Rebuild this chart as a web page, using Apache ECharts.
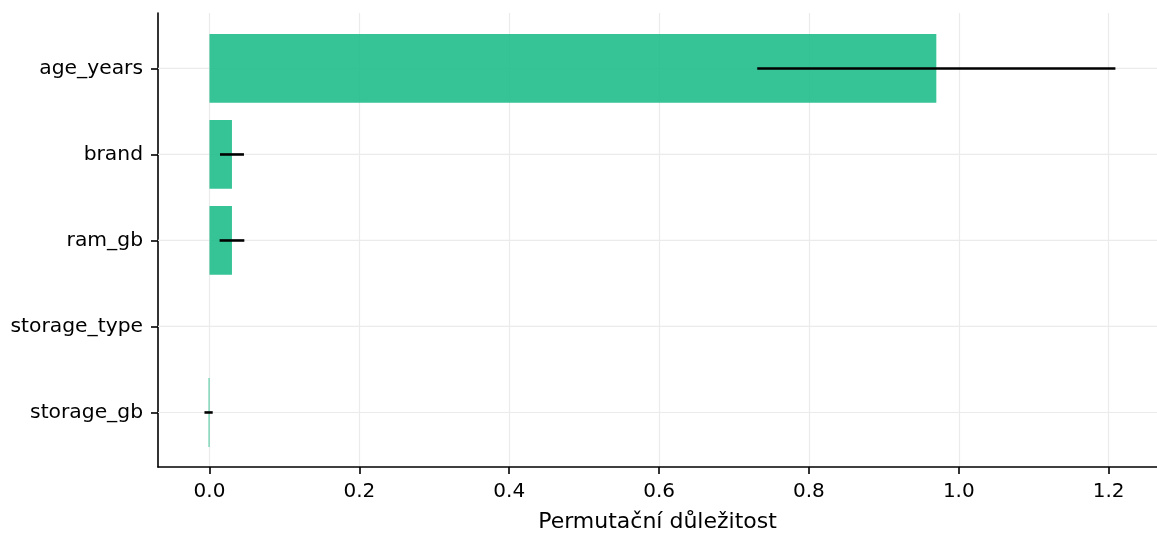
<!DOCTYPE html>
<html>
<head>
<meta charset="utf-8">
<script src="https://cdn.jsdelivr.net/npm/echarts@6/dist/echarts.min.js"></script>
<style>
  html, body { margin: 0; padding: 0; background: #ffffff; }
  #chart { width: 1157px; height: 533px; }
</style>
</head>
<body>
<div id="chart"></div>
<script>
// ---- data ----
const categories = ['age_years', 'brand', 'ram_gb', 'storage_type', 'storage_gb'];
const importanceMean = [0.970, 0.030, 0.030, 0.000, -0.0012];
const importanceStd = [0.239, 0.016, 0.0165, 0.000, 0.0055];
const xTickValues = [0.0, 0.2, 0.4, 0.6, 0.8, 1.0, 1.2];
const xAxisTitle = 'Permutační důležitost';

// ---- chart ----
const FONT = "'DejaVu Sans', 'Liberation Sans', sans-serif";
const BAR_COLOR = 'rgb(32,189,137)';
const GRID_COLOR = '#ebebeb';
const BAR_HEIGHT = 0.8; // in category units

const catIdx = categories.map((_, i) => i);
const barData = categories.map((c, i) => [importanceMean[i], i, importanceStd[i]]);

const chart = echarts.init(document.getElementById('chart'), null, { renderer: 'canvas' });

const option = {
  backgroundColor: '#ffffff',
  animation: false,
  textStyle: { fontFamily: FONT, color: '#000' },
  grid: { left: 158, right: 0, top: 13, bottom: 66, containLabel: false, outerBoundsMode: 'none' },
  xAxis: {
    type: 'value',
    min: -0.0687,
    max: 1.2645,
    minInterval: 0.2,
    maxInterval: 0.2,
    axisLine: { show: true, onZero: false, lineStyle: { color: '#000', width: 1.6 } },
    axisTick: { show: true, length: 7, customValues: xTickValues, lineStyle: { color: '#000', width: 1.6 } },
    axisLabel: {
      customValues: xTickValues,
      formatter: v => Number(v).toFixed(1),
      fontFamily: FONT, fontSize: 20, color: '#000', margin: 15
    },
    splitLine: { show: true, lineStyle: { color: GRID_COLOR, width: 1.2 } },
    name: xAxisTitle,
    nameLocation: 'middle',
    nameGap: 44,
    nameTextStyle: { fontFamily: FONT, fontSize: 22, color: '#000' }
  },
  yAxis: {
    type: 'value',
    inverse: true,
    min: -0.645,
    max: 4.634,
    axisLine: { show: true, onZero: false, lineStyle: { color: '#000', width: 1.6 } },
    axisTick: { show: true, length: 7, customValues: catIdx, lineStyle: { color: '#000', width: 1.6 } },
    axisLabel: {
      customValues: catIdx,
      formatter: v => categories[Math.round(v)] || '',
      fontFamily: FONT, fontSize: 20.3, color: '#000', margin: 15,
      padding: [4, 0, 0, 0]
    },
    splitLine: { show: false }
  },
  series: [
    {
      // horizontal gridlines at category positions
      type: 'custom',
      z: 1,
      silent: true,
      data: catIdx.map(i => [0, i]),
      renderItem: function (params, api) {
        const cs = params.coordSys;
        const p = api.coord([0, api.value(1)]);
        return {
          type: 'line',
          shape: { x1: cs.x, y1: p[1], x2: cs.x + cs.width, y2: p[1] },
          style: { stroke: GRID_COLOR, lineWidth: 1.2 }
        };
      }
    },
    {
      // bars
      type: 'custom',
      z: 2,
      data: barData,
      renderItem: function (params, api) {
        const v = api.value(0), i = api.value(1);
        const p0 = api.coord([0, i - BAR_HEIGHT / 2]);
        const p1 = api.coord([v, i + BAR_HEIGHT / 2]);
        const x = Math.min(p0[0], p1[0]);
        const w = Math.abs(p1[0] - p0[0]);
        if (w === 0) return null;
        return {
          type: 'rect',
          shape: { x: x, y: p0[1], width: w, height: p1[1] - p0[1] },
          style: { fill: BAR_COLOR, opacity: 0.9 }
        };
      }
    },
    {
      // error bars
      type: 'custom',
      z: 3,
      data: barData,
      renderItem: function (params, api) {
        const v = api.value(0), i = api.value(1), s = api.value(2);
        if (!s) return null;
        const a = api.coord([v - s, i]);
        const b = api.coord([v + s, i]);
        return {
          type: 'line',
          shape: { x1: a[0], y1: a[1], x2: b[0], y2: b[1] },
          style: { stroke: '#000', lineWidth: 2.6 }
        };
      }
    }
  ]
};

chart.setOption(option);
</script>
</body>
</html>
